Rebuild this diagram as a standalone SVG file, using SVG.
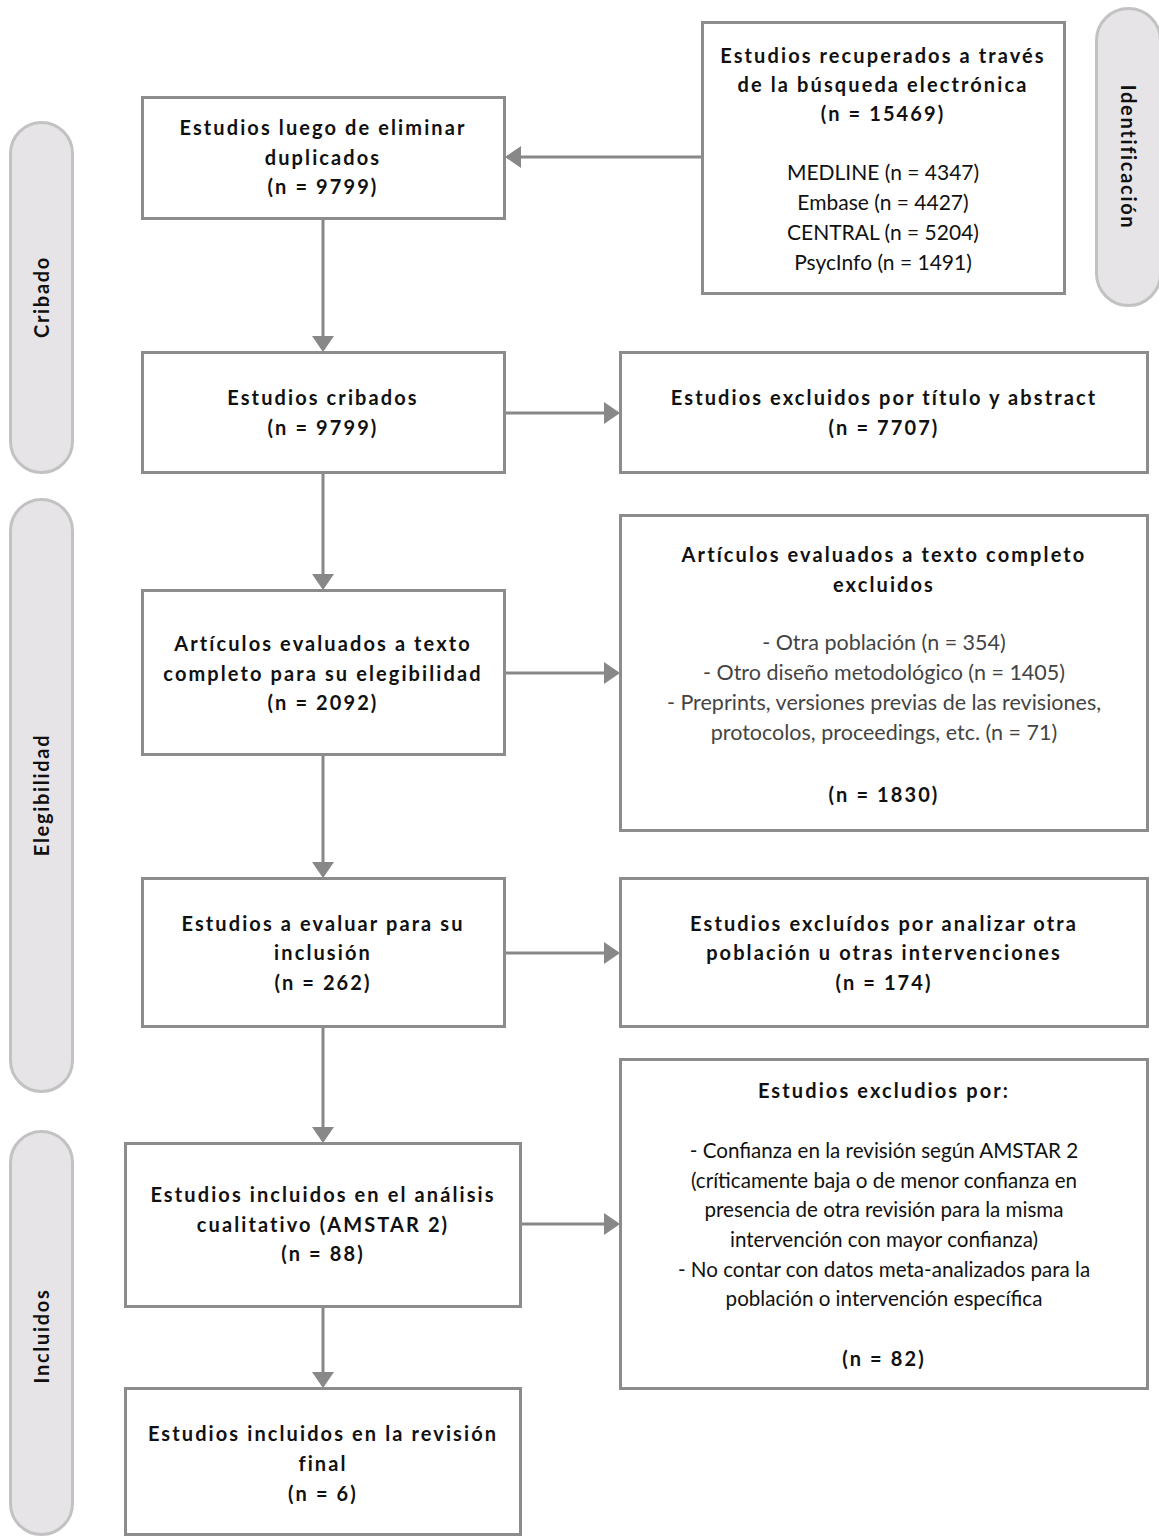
<svg xmlns="http://www.w3.org/2000/svg" width="1159" height="1536" viewBox="0 0 1159 1536">
<style>
.box{fill:#fff;stroke:#8c8c8c;stroke-width:3}
.pill{fill:#e7e4e8;stroke:#c2c2c2;stroke-width:3}
.b{font-family:Lato,"Open Sans","Liberation Sans",sans-serif;font-weight:700;font-size:20px;letter-spacing:2.1px;fill:#111;text-anchor:middle}
.l{letter-spacing:1.7px}
.r{font-family:Lato,"Open Sans","Liberation Sans",sans-serif;font-weight:400;font-size:21px;fill:#111;text-anchor:middle}
.g{fill:#444;font-size:21.5px}
.a{font-size:20.6px}
.c{fill:none;stroke:#888;stroke-width:3}
</style>
<defs>
<marker id="arr" viewBox="0 0 16 22" refX="14" refY="11" markerWidth="16" markerHeight="22" orient="auto" markerUnits="userSpaceOnUse">
<path d="M0,0 L16,11 L0,22 Z" fill="#888"/>
</marker>
</defs>

<g id="lane-identificacion">
<rect class="pill" x="1096.5" y="8.5" width="64" height="297" rx="32"/>
<text class="b l" transform="translate(1121,157) rotate(90)">Identificación</text>
</g>
<g id="lane-cribado">
<rect class="pill" x="10.5" y="122.5" width="62" height="350" rx="31"/>
<text class="b l" transform="translate(49,297) rotate(-90)">Cribado</text>
</g>
<g id="lane-elegibilidad">
<rect class="pill" x="10.5" y="499.5" width="62" height="592" rx="31"/>
<text class="b l" transform="translate(49,795) rotate(-90)">Elegibilidad</text>
</g>
<g id="lane-incluidos">
<rect class="pill" x="10.5" y="1131.5" width="62" height="403" rx="31"/>
<text class="b l" transform="translate(49,1336) rotate(-90)">Incluidos</text>
</g>

<g id="connectors">
<line class="c" x1="702" y1="157" x2="507" y2="157" marker-end="url(#arr)"/>
<line class="c" x1="323" y1="219" x2="323" y2="350" marker-end="url(#arr)"/>
<line class="c" x1="505" y1="413" x2="618" y2="413" marker-end="url(#arr)"/>
<line class="c" x1="323" y1="473" x2="323" y2="588" marker-end="url(#arr)"/>
<line class="c" x1="505" y1="673" x2="618" y2="673" marker-end="url(#arr)"/>
<line class="c" x1="323" y1="755" x2="323" y2="876" marker-end="url(#arr)"/>
<line class="c" x1="505" y1="953" x2="618" y2="953" marker-end="url(#arr)"/>
<line class="c" x1="323" y1="1027" x2="323" y2="1141" marker-end="url(#arr)"/>
<line class="c" x1="521" y1="1224" x2="618" y2="1224" marker-end="url(#arr)"/>
<line class="c" x1="323" y1="1307" x2="323" y2="1386" marker-end="url(#arr)"/>
</g>

<g id="recuperados">
<rect class="box" x="702.5" y="22.5" width="362" height="271"/>
<text class="b" x="883" y="63">Estudios recuperados a través</text>
<text class="b" x="883" y="92">de la búsqueda electrónica</text>
<text class="b" x="883" y="121">(n = 15469)</text>
<text class="r" x="883" y="180">MEDLINE (n = 4347)</text>
<text class="r" x="883" y="210">Embase (n = 4427)</text>
<text class="r" x="883" y="240">CENTRAL (n = 5204)</text>
<text class="r" x="883" y="270">PsycInfo (n = 1491)</text>
</g>

<g id="duplicados">
<rect class="box" x="142.5" y="97.5" width="362" height="121"/>
<text class="b" x="323" y="135">Estudios luego de eliminar</text>
<text class="b" x="323" y="165">duplicados</text>
<text class="b" x="323" y="194">(n = 9799)</text>
</g>

<g id="cribados">
<rect class="box" x="142.5" y="352.5" width="362" height="120"/>
<text class="b" x="323" y="405">Estudios cribados</text>
<text class="b" x="323" y="435">(n = 9799)</text>
</g>

<g id="excl-titulo">
<rect class="box" x="620.5" y="352.5" width="527" height="120"/>
<text class="b" x="884" y="405">Estudios excluidos por título y abstract</text>
<text class="b" x="884" y="435">(n = 7707)</text>
</g>

<g id="texto-completo">
<rect class="box" x="142.5" y="590.5" width="362" height="164"/>
<text class="b" x="323" y="651">Artículos evaluados a texto</text>
<text class="b" x="323" y="681">completo para su elegibilidad</text>
<text class="b" x="323" y="710">(n = 2092)</text>
</g>

<g id="excl-texto">
<rect class="box" x="620.5" y="515.5" width="527" height="315"/>
<text class="b" x="884" y="562">Artículos evaluados a texto completo</text>
<text class="b" x="884" y="592">excluidos</text>
<text class="r g" x="884" y="650">- Otra población (n = 354)</text>
<text class="r g" x="884" y="680">- Otro diseño metodológico (n = 1405)</text>
<text class="r g" x="884" y="710">- Preprints, versiones previas de las revisiones,</text>
<text class="r g" x="884" y="740">protocolos, proceedings, etc. (n = 71)</text>
<text class="b" x="884" y="802">(n = 1830)</text>
</g>

<g id="evaluar">
<rect class="box" x="142.5" y="878.5" width="362" height="148"/>
<text class="b" x="323" y="931">Estudios a evaluar para su</text>
<text class="b" x="323" y="960">inclusión</text>
<text class="b" x="323" y="990">(n = 262)</text>
</g>

<g id="excl-poblacion">
<rect class="box" x="620.5" y="878.5" width="527" height="148"/>
<text class="b" x="884" y="931">Estudios excluídos por analizar otra</text>
<text class="b" x="884" y="960">población u otras intervenciones</text>
<text class="b" x="884" y="990">(n = 174)</text>
</g>

<g id="cualitativo">
<rect class="box" x="125.5" y="1143.5" width="395" height="163"/>
<text class="b" x="323" y="1202">Estudios incluidos en el análisis</text>
<text class="b" x="323" y="1232">cualitativo (AMSTAR 2)</text>
<text class="b" x="323" y="1261">(n = 88)</text>
</g>

<g id="excl-amstar">
<rect class="box" x="620.5" y="1059.5" width="527" height="329"/>
<text class="b" x="884" y="1098">Estudios excludios por:</text>
<text class="r a" x="884" y="1158">- Confianza en la revisión según AMSTAR 2</text>
<text class="r a" x="884" y="1188">(críticamente baja o de menor confianza en</text>
<text class="r a" x="884" y="1217">presencia de otra revisión para la misma</text>
<text class="r a" x="884" y="1247">intervención con mayor confianza)</text>
<text class="r a" x="884" y="1277">- No contar con datos meta-analizados para la</text>
<text class="r a" x="884" y="1306">población o intervención específica</text>
<text class="b" x="884" y="1366">(n = 82)</text>
</g>

<g id="final">
<rect class="box" x="125.5" y="1388.5" width="395" height="146"/>
<text class="b" x="323" y="1441">Estudios incluidos en la revisión</text>
<text class="b" x="323" y="1471">final</text>
<text class="b" x="323" y="1501">(n = 6)</text>
</g>
</svg>
